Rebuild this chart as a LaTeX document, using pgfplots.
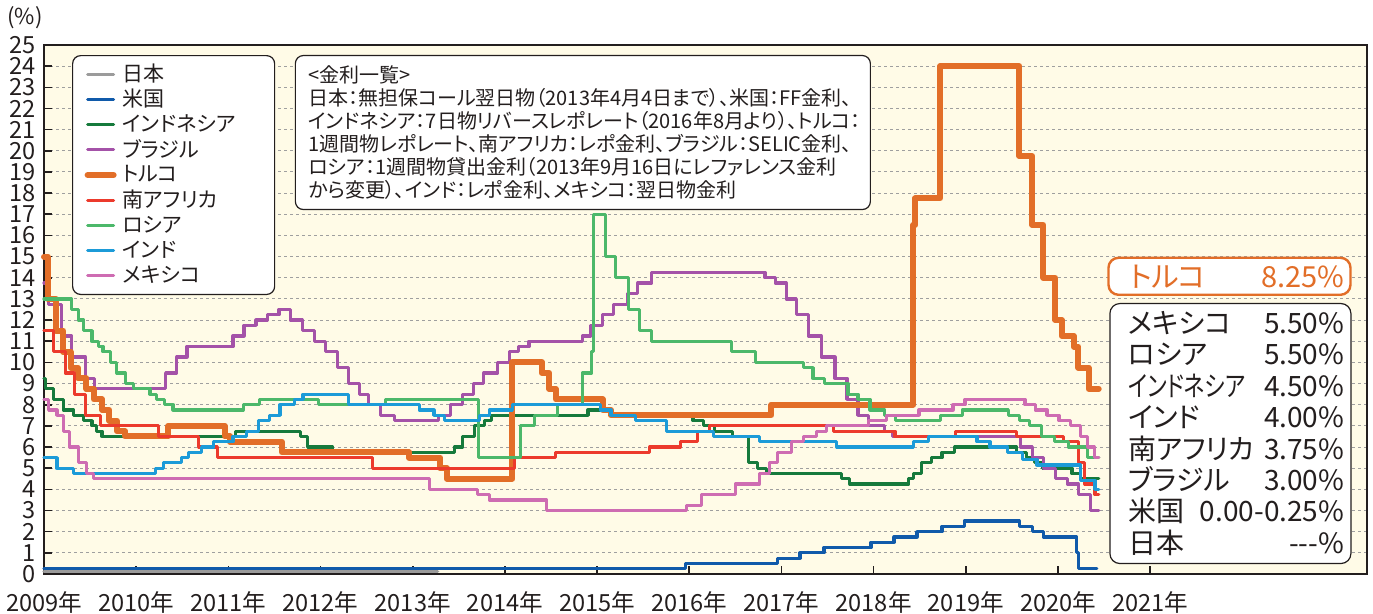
\documentclass[border=0pt]{standalone}
\usepackage{fontspec}
\setmainfont{Noto Sans CJK JP}[RawFeature=+palt]
\usepackage{graphicx}
\usepackage{pgfplots}
\pgfplotsset{compat=1.18}
\definecolor{bgc}{RGB}{255,251,231}
\definecolor{jpc}{RGB}{155,155,155}
\definecolor{usc}{RGB}{16,90,170}
\definecolor{idc}{RGB}{22,122,60}
\definecolor{brc}{RGB}{164,82,168}
\definecolor{tkc}{RGB}{226,110,40}
\definecolor{zac}{RGB}{236,58,44}
\definecolor{ruc}{RGB}{76,184,106}
\definecolor{inc}{RGB}{28,155,216}
\definecolor{mxc}{RGB}{206,108,178}
\definecolor{txt}{RGB}{35,30,30}
\begin{document}
\begin{tikzpicture}
\begin{axis}[
  width=661.5pt, height=264.5pt, scale only axis,
  xmin=2009, xmax=2023.35, ymin=0, ymax=25,
  clip=false,
  axis background/.style={fill=bgc},
  axis line style={draw=txt, line width=0.8pt},
  xtick={2009,...,2021},
  xticklabels={2009年,2010年,2011年,2012年,2013年,2014年,2015年,2016年,2017年,2018年,2019年,2020年,2021年},
  ytick={0,...,25},
  tick align=inside, xtick pos=left, ytick pos=left,
  major tick length=4pt,
  tick style={draw=txt, line width=0.8pt},
  ymajorgrids,
  grid style={draw=gray!75, dash pattern=on 1.5pt off 1.5pt, line width=0.5pt},
  /pgf/number format/assume math mode=true,
  ticklabel style={font=\fontsize{11.8}{12}\selectfont, text=txt},
  yticklabel style={inner sep=0pt, xshift=-4pt},
  xticklabel style={inner sep=0pt, yshift=-8.5pt},
  legend image code/.code={\draw[#1] (0pt,0pt) -- (13pt,0pt);},
  legend cell align=left,
  legend style={at={(rel axis cs:0.0212,0.981)}, anchor=north west,
    draw=txt, line width=0.6pt, rounded corners=4pt, fill=white,
    font=\fontsize{10.5}{12}\selectfont, text=txt,
    inner xsep=6pt, inner ysep=3pt, row sep=0pt,
    nodes={inner sep=0pt, minimum height=12.6pt, anchor=west},
    /tikz/every odd column/.append style={column sep=3pt}},
  every axis plot/.append style={line join=round, line cap=round},
]
% Japan
\addplot[const plot, color=jpc, line width=1.6pt] coordinates {(2009.0,0.1) (2013.27,0.1)};
\addlegendentry{\makebox[70pt][l]{日本}}
% US
\addplot[const plot, color=usc, line width=1.6pt] coordinates {
(2009.0,0.25) (2015.96,0.5) (2016.96,0.75) (2017.2,1.0) (2017.46,1.25) (2017.97,1.5)
(2018.22,1.75) (2018.47,2.0) (2018.74,2.25) (2018.98,2.5) (2019.58,2.25) (2019.72,2.0)
(2019.84,1.75) (2020.2,1.0) (2020.22,0.25) (2020.42,0.25)};
\addlegendentry{\makebox[70pt][l]{米国}}
% Indonesia
\addplot[const plot, color=idc, line width=1.6pt] coordinates {
(2009.0,9.25) (2009.02,8.75) (2009.1,8.25) (2009.21,7.75) (2009.32,7.5) (2009.43,7.25)
(2009.52,7.0) (2009.57,6.75) (2009.63,6.5) (2011.08,6.75) (2011.78,6.5) (2011.86,6.0)
(2012.13,5.75) (2013.45,6.0) (2013.54,6.5) (2013.67,7.0) (2013.78,7.25) (2013.85,7.5)
(2014.9,7.75) (2015.13,7.5) (2016.04,7.25) (2016.15,7.0) (2016.27,6.75) (2016.47,6.5)
(2016.64,5.25) (2016.74,5.0) (2016.84,4.75) (2017.65,4.5) (2017.74,4.25) (2018.38,4.5)
(2018.43,4.75) (2018.52,5.25) (2018.63,5.5) (2018.74,5.75) (2018.88,6.0) (2019.55,5.75)
(2019.66,5.5) (2019.74,5.25) (2019.83,5.0) (2020.15,4.75) (2020.24,4.5) (2020.44,4.5)};
\addlegendentry{\makebox[70pt][l]{インドネシア}}
% Brazil
\addplot[const plot, color=brc, line width=1.6pt] coordinates {
(2009.0,13.75) (2009.05,12.75) (2009.19,11.25) (2009.3,10.25) (2009.45,9.25) (2009.55,8.75)
(2010.32,9.5) (2010.44,10.25) (2010.55,10.75) (2011.05,11.25) (2011.17,11.75) (2011.3,12.0)
(2011.42,12.25) (2011.55,12.5) (2011.67,12.0) (2011.8,11.5) (2011.93,11.0) (2012.05,10.5)
(2012.18,9.75) (2012.3,9.0) (2012.42,8.5) (2012.52,8.0) (2012.65,7.5) (2012.8,7.25)
(2013.28,7.5) (2013.41,8.0) (2013.54,8.5) (2013.66,9.0) (2013.77,9.5) (2013.92,10.0)
(2014.05,10.5) (2014.15,10.75) (2014.26,11.0) (2014.84,11.25) (2014.93,11.75) (2015.06,12.25)
(2015.18,12.75) (2015.33,13.25) (2015.44,13.75) (2015.59,14.25) (2016.82,14.0) (2016.93,13.75)
(2017.05,13.0) (2017.16,12.25) (2017.29,11.25) (2017.43,10.25) (2017.58,9.25) (2017.71,8.25)
(2017.83,7.5) (2017.94,7.0) (2018.12,6.75) (2018.2,6.5) (2019.59,6.0) (2019.72,5.5)
(2019.84,5.0) (2019.97,4.5) (2020.1,4.25) (2020.22,3.75) (2020.35,3.0) (2020.44,3.0)};
\addlegendentry{\makebox[70pt][l]{ブラジル}}
% Turkey
\addplot[const plot, color=tkc, line width=3pt] coordinates {
(2009.0,15.0) (2009.04,13.0) (2009.13,11.5) (2009.21,10.5) (2009.29,9.75) (2009.37,9.25)
(2009.46,8.75) (2009.54,8.25) (2009.63,7.75) (2009.71,7.25) (2009.79,6.75) (2009.88,6.5)
(2010.35,7.0) (2010.96,6.5) (2011.02,6.25) (2011.58,5.75) (2012.96,5.5) (2013.3,5.0)
(2013.37,4.5) (2014.08,10.0) (2014.4,9.5) (2014.48,8.75) (2014.55,8.25) (2015.06,7.75)
(2015.15,7.5) (2016.89,8.0) (2018.43,16.5) (2018.45,17.75) (2018.72,24.0) (2019.58,19.75)
(2019.72,16.5) (2019.84,14.0) (2019.97,12.0) (2020.04,11.25) (2020.17,10.75) (2020.22,9.75)
(2020.33,8.75) (2020.44,8.75)};
\addlegendentry{\makebox[70pt][l]{トルコ}}
% South Africa
\addplot[const plot, color=zac, line width=1.6pt] coordinates {
(2009.0,11.5) (2009.1,10.5) (2009.23,9.5) (2009.33,8.5) (2009.45,7.5) (2009.61,7.0)
(2010.24,6.5) (2010.68,6.0) (2010.88,5.5) (2012.56,5.0) (2014.1,5.5) (2014.55,5.75)
(2015.57,6.0) (2015.9,6.25) (2016.09,6.75) (2016.22,7.0) (2017.56,6.75) (2018.23,6.5)
(2018.89,6.75) (2019.55,6.5) (2020.06,6.25) (2020.22,5.25) (2020.29,4.25) (2020.4,3.75)
(2020.44,3.75)};
\addlegendentry{\makebox[70pt][l]{南アフリカ}}
% Russia
\addplot[const plot, color=ruc, line width=1.6pt] coordinates {
(2009.0,13.0) (2009.3,12.5) (2009.37,12.0) (2009.43,11.5) (2009.52,11.0) (2009.59,10.75)
(2009.64,10.5) (2009.72,10.0) (2009.79,9.5) (2009.88,9.0) (2009.97,8.75) (2010.15,8.5)
(2010.22,8.25) (2010.31,8.0) (2010.4,7.75) (2011.16,8.0) (2011.34,8.25) (2011.98,8.0)
(2012.7,8.25) (2013.71,5.5) (2014.17,7.0) (2014.32,7.5) (2014.57,8.0) (2014.84,9.5)
(2014.94,10.5) (2014.96,17.0) (2015.09,15.0) (2015.2,14.0) (2015.34,12.5) (2015.46,11.5)
(2015.59,11.0) (2016.46,10.5) (2016.72,10.0) (2017.24,9.75) (2017.34,9.25) (2017.47,9.0)
(2017.72,8.5) (2017.83,8.25) (2017.96,7.75) (2018.12,7.5) (2018.24,7.25) (2018.72,7.5)
(2018.96,7.75) (2019.46,7.5) (2019.58,7.25) (2019.69,7.0) (2019.82,6.5) (2019.96,6.25)
(2020.11,6.0) (2020.32,5.5) (2020.44,5.5)};
\addlegendentry{\makebox[70pt][l]{ロシア}}
% India
\addplot[const plot, color=inc, line width=1.6pt] coordinates {
(2009.0,5.5) (2009.14,5.0) (2009.32,4.75) (2010.21,5.0) (2010.3,5.25) (2010.49,5.5)
(2010.57,5.75) (2010.71,6.0) (2010.84,6.25) (2011.05,6.5) (2011.2,6.75) (2011.33,7.25)
(2011.45,7.5) (2011.56,8.0) (2011.72,8.25) (2011.81,8.5) (2012.3,8.0) (2013.07,7.75)
(2013.23,7.5) (2013.34,7.25) (2013.72,7.5) (2013.83,7.75) (2014.08,8.0) (2015.04,7.75)
(2015.15,7.5) (2015.42,7.25) (2015.75,6.75) (2016.26,6.5) (2016.76,6.25) (2017.6,6.0)
(2018.43,6.25) (2018.59,6.5) (2019.12,6.25) (2019.26,6.0) (2019.45,5.75) (2019.61,5.4)
(2019.77,5.15) (2020.24,4.4) (2020.4,4.0) (2020.44,4.0)};
\addlegendentry{\makebox[70pt][l]{インド}}
% Mexico
\addplot[const plot, color=mxc, line width=1.6pt] coordinates {
(2009.0,8.25) (2009.05,7.75) (2009.14,7.5) (2009.21,6.75) (2009.28,6.0) (2009.37,5.25)
(2009.46,4.75) (2009.54,4.5) (2013.18,4.0) (2013.7,3.75) (2013.83,3.5) (2014.45,3.0)
(2015.97,3.25) (2016.13,3.75) (2016.5,4.25) (2016.76,4.75) (2016.87,5.25) (2016.96,5.75)
(2017.11,6.25) (2017.24,6.5) (2017.38,6.75) (2017.49,7.0) (2017.94,7.25) (2018.14,7.5)
(2018.49,7.75) (2018.86,8.0) (2018.99,8.25) (2019.64,8.0) (2019.75,7.75) (2019.88,7.5)
(2020.01,7.25) (2020.13,7.0) (2020.24,6.5) (2020.32,6.0) (2020.39,5.5) (2020.44,5.5)};
\addlegendentry{\makebox[70pt][l]{メキシコ}}

% notes box
\node[draw=txt, line width=0.6pt, rounded corners=4pt, fill=white, anchor=north west,
  inner xsep=6.5pt, inner ysep=4pt, text width=274.5pt, minimum height=77pt, align=left,
  text=txt, font=\fontsize{10}{11.5}\selectfont] at (axis cs:2011.72,24.53)
  {<金利一覧>\\
   日本：無担保コール翌日物（2013年4月4日まで）、米国：FF金利、\\
   インドネシア：7日物リバースレポレート（2016年8月より）、トルコ：\\
   1週間物レポレート、南アフリカ：レポ金利、ブラジル：SELIC金利、\\
   ロシア：1週間物貸出金利（2013年9月16日にレファレンス金利\\
   から変更）、インド：レポ金利、メキシコ：翌日物金利};

% Turkey box
\node[draw=tkc, line width=1.2pt, rounded corners=5pt, fill=white, anchor=north west,
  inner sep=0pt, minimum width=121pt, minimum height=18.5pt, text=tkc,
  font=\fontsize{14.5}{15}\selectfont] at (axis cs:2020.533,15.0)
  {\hspace{7.5pt}\makebox[107.5pt]{トルコ\hfill 8.25\%}\hspace{6pt}};

% latest values box
\node[draw=txt, line width=0.6pt, rounded corners=5pt, fill=white, anchor=north west,
  inner xsep=0pt, inner ysep=0pt, minimum width=120.5pt, minimum height=130pt, text=txt,
  align=left, font=\fontsize{14}{15.7}\selectfont] at (axis cs:2020.555,12.81)
  {\hspace{5.8pt}\makebox[108pt]{メキシコ\hfill 5.50\%}\\
   \hspace{5.8pt}\makebox[108pt]{ロシア\hfill 5.50\%}\\
   \hspace{5.8pt}\makebox[108pt]{\scalebox{0.78}[1]{インドネシア}\hfill 4.50\%}\\
   \hspace{5.8pt}\makebox[108pt]{インド\hfill 4.00\%}\\
   \hspace{5.8pt}\makebox[108pt]{南アフリカ\hfill 3.75\%}\\
   \hspace{5.8pt}\makebox[108pt]{ブラジル\hfill 3.00\%}\\
   \hspace{5.8pt}\makebox[108pt]{米国\hfill 0.00-0.25\%}\\
   \hspace{5.8pt}\makebox[108pt]{日本\hfill -{}-{}-\%}};

% unit label
\node[anchor=center, text=txt, font=\fontsize{11}{12}\selectfont] at (rel axis cs:-0.0144,1.051) {(\%)};
\end{axis}
\pgfresetboundingbox
\path[use as bounding box] ([xshift=-22pt,yshift=-20pt]current axis.south west) rectangle ([xshift=3pt,yshift=22.5pt]current axis.north east);
\end{tikzpicture}
\end{document}
